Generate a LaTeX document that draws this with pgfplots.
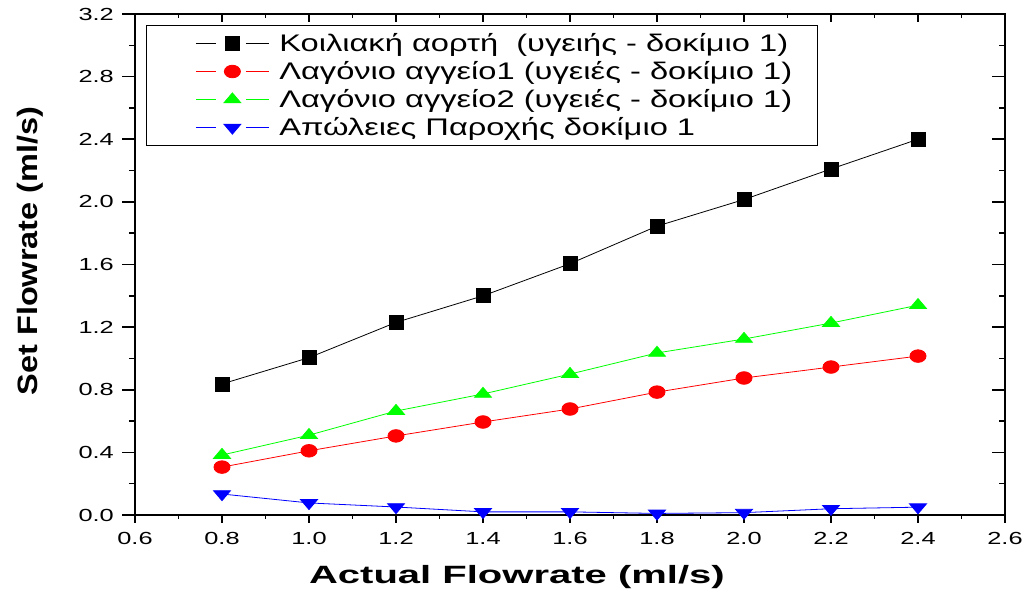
\documentclass[border=0pt]{standalone}
\usepackage{fontspec}
\setmainfont{Liberation Sans}
\newfontfamily\tickF[FakeStretch=1.45]{Liberation Sans}
\newfontfamily\xlabF[FakeStretch=1.6]{Liberation Sans}
\newfontfamily\ylabF[FakeStretch=1.16]{Liberation Sans}
\newfontfamily\legF[FakeStretch=1.36]{Liberation Sans}
\usepackage{pgfplots}
\pgfplotsset{compat=1.18}
\pgfplotsset{
  originleg/.style={legend image code/.code={
    \path (0pt,0pt);
    \draw[##1,mark=none,draw=#1,line width=0.8pt] plot coordinates {(24pt,0pt) (44pt,0pt)};
    \draw[##1,mark=none,draw=#1,line width=0.8pt] plot coordinates {(74pt,0pt) (97pt,0pt)};
    \draw[##1,only marks] plot coordinates {(60.5pt,0pt)};
  }},
  frame/.style={scale only axis, width=870pt, height=501pt,
    xmin=0.6, xmax=2.6, ymin=0, ymax=3.2,
    xtick={0.6,0.8,1.0,1.2,1.4,1.6,1.8,2.0,2.2,2.4,2.6},
    ytick={0,0.4,0.8,1.2,1.6,2.0,2.4,2.8,3.2},
    minor x tick num=1, minor y tick num=1,
    every tick/.style={black, line width=1.6pt},
    axis line style={line width=2pt},
    /pgf/number format/assume math mode=true,
    /pgf/number format/fixed, /pgf/number format/fixed zerofill, /pgf/number format/precision=1,
  },
}
\begin{document}
\begin{tikzpicture}
% y ticks left (outside) with labels and y label
\begin{axis}[frame, xtick=\empty, minor x tick num=0,
  tick align=outside, ytick pos=left,
  major tick length=13pt, minor tick length=6pt,
  yticklabel style={font=\tickF\fontsize{17.5}{20}\selectfont, inner sep=0pt, xshift=-8pt},
  ylabel={Set Flowrate (ml/s)},
  ylabel style={font=\ylabF\bfseries\fontsize{28}{30}\selectfont, at={(axis description cs:-0.1207,0.527)}, anchor=center},
]
\end{axis}
% right ticks (inside)
\begin{axis}[frame, xtick=\empty, minor x tick num=0,
  tick align=inside, ytick pos=right, yticklabels={},
  major tick length=13pt, minor tick length=6pt,
]
\end{axis}
% top ticks (inside)
\begin{axis}[frame, ytick=\empty, minor y tick num=0,
  tick align=inside, xtick pos=top, xticklabels={},
  major tick length=8pt, minor tick length=4pt,
]
\end{axis}
% main: data, x ticks bottom (outside), x label, legend
\begin{axis}[frame, name=ax, ytick=\empty, minor y tick num=0,
  tick align=outside, xtick pos=bottom,
  major tick length=8pt, minor tick length=4pt,
  xticklabel style={font=\tickF\fontsize{17.5}{20}\selectfont, inner sep=0pt, yshift=-9pt},
  xlabel={Actual Flowrate (ml/s)},
  xlabel style={font=\xlabF\bfseries\fontsize{25}{28}\selectfont, at={(axis description cs:0.439,-0.124)}, anchor=center},
  legend style={at={(axis description cs:0.01264,0.978)}, anchor=north west, line width=1pt,
    font=\legF\fontsize{24}{26}\selectfont, inner xsep=25pt, inner ysep=4pt, row sep=0pt,
    nodes={inner xsep=0pt, inner ysep=0pt, text height=22pt, text depth=6pt},
    cells={anchor=west}, /tikz/every odd column/.append style={column sep=10pt}},
  legend cell align=left,
]
\addplot[black, line width=0.8pt, mark=square*, mark size=7pt, mark options={solid, fill=black}, originleg=black]
  coordinates {(0.8,0.837) (1.0,1.005) (1.2,1.23) (1.4,1.40) (1.6,1.605) (1.8,1.845) (2.0,2.015) (2.2,2.21) (2.4,2.40)};
\addlegendentry{Κοιλιακή αορτή\ \ (υγειής - δοκίμιο 1)}
\addplot[red, line width=0.8pt, mark=*, mark size=7pt, mark options={solid, fill=red, xscale=1.15, yscale=0.9}, originleg=red]
  coordinates {(0.8,0.306) (1.0,0.41) (1.2,0.505) (1.4,0.594) (1.6,0.677) (1.8,0.785) (2.0,0.875) (2.2,0.945) (2.4,1.015)};
\addlegendentry{Λαγόνιο αγγείο1 (υγειές - δοκίμιο 1)}
\addplot[green, line width=0.8pt, mark=triangle*, mark size=8pt, mark options={solid, fill=green, xscale=1.22, yscale=0.83}, originleg=green]
  coordinates {(0.8,0.383) (1.0,0.51) (1.2,0.664) (1.4,0.773) (1.6,0.90) (1.8,1.035) (2.0,1.124) (2.2,1.226) (2.4,1.34)};
\addlegendentry{Λαγόνιο αγγείο2 (υγειές - δοκίμιο 1)}
\addplot[blue, line width=0.8pt, mark=triangle*, mark size=8pt, mark options={solid, fill=blue, rotate=180, xscale=1.22, yscale=0.83}, originleg=blue]
  coordinates {(0.8,0.134) (1.0,0.077) (1.2,0.051) (1.4,0.02) (1.6,0.02) (1.8,0.01) (2.0,0.015) (2.2,0.04) (2.4,0.05)};
\addlegendentry{Απώλειες Παροχής δοκίμιο 1}
\end{axis}
\pgfresetboundingbox
\path[use as bounding box] ([xshift=-135pt,yshift=-80pt]ax.south west) rectangle ([xshift=22pt,yshift=14pt]ax.north east);
\end{tikzpicture}
\end{document}
